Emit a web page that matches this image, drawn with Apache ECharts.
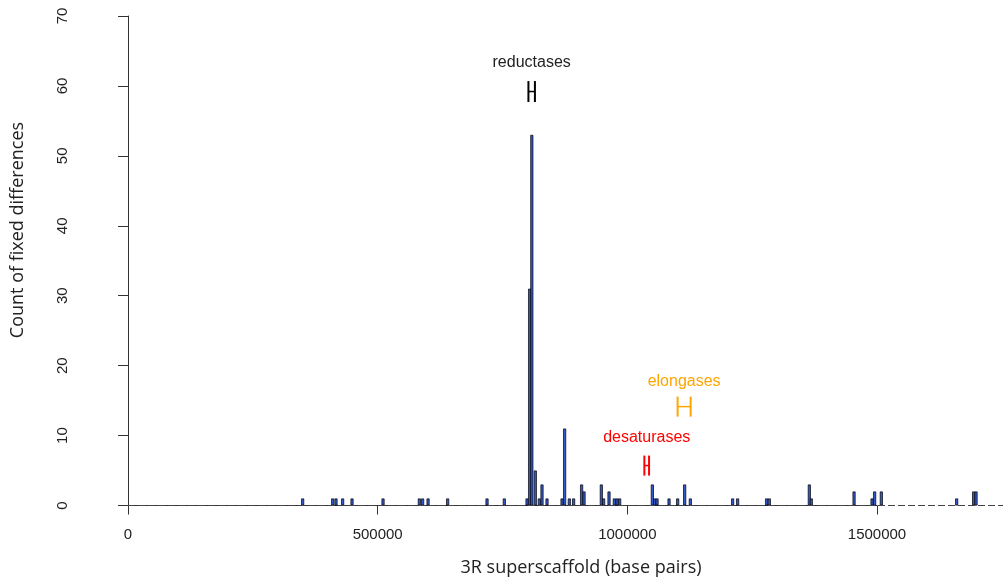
<!DOCTYPE html>
<html><head><meta charset="utf-8">
<script src="https://cdn.jsdelivr.net/npm/echarts@6/dist/echarts.min.js"></script>
<style>html,body{margin:0;padding:0;background:#fff}#c{width:1003px;height:582px}</style>
</head><body><div id="c"></div>
<script>
// Bin positions (base pairs) and counts of fixed differences
const positions = [349800, 409900, 416600, 429900, 448700, 510800, 583500, 590100, 601000, 640200, 719100, 753700,
  799200, 804400, 808800, 815800, 823800, 829200, 839200,
  869300, 874500, 883900, 892500, 908500, 913400,
  948000, 952600, 963400, 974000, 979500, 984700,
  1050200, 1054800, 1059600, 1083600, 1100900, 1114900, 1126300,
  1211000, 1221000, 1279000, 1284500, 1364600, 1368600,
  1454200, 1490200, 1495400, 1508800, 1659700, 1693700, 1698500];
const counts = [1, 1, 1, 1, 1, 1, 1, 1, 1, 1, 1, 1,
  1, 31, 53, 5, 1, 3, 1,
  1, 11, 1, 1, 3, 2,
  3, 1, 2, 1, 1, 1,
  3, 1, 1, 1, 1, 3, 1,
  1, 1, 1, 1, 3, 1,
  2, 1, 2, 2, 1, 2, 2];

// Axis ticks
const xTicks = [0, 500000, 1000000, 1500000];
const yTicks = [0, 10, 20, 30, 40, 50, 60, 70];

// Gene-family annotations
const annotNames = ['reductases', 'desaturases', 'elongases'];
const annotStart = [802000, 1034200, 1100800];
const annotEnd = [815000, 1043600, 1126900];
const annotY = [59.2, 5.71, 14.14];
const annotHalf = [1.5, 1.43, 1.43];
const annotLabelY = [63.4, 9.77, 17.7];
const annotTextColors = ['#222222', '#ff0000', '#ffa500'];
const annotBarColors = ['#000000', '#ff0000', '#ffa500'];

const xMaxVisible = 1752500;

const chart = echarts.init(document.getElementById('c'), null, {renderer: 'canvas'});
const axisColor = '#333';
const tickFont = {fontSize: 15, color: '#222', fontFamily: 'Liberation Sans'};

const annotData = annotNames.map((n, i) => [annotStart[i], annotEnd[i], annotY[i], annotHalf[i], annotLabelY[i]]);

chart.setOption({
  animation: false,
  backgroundColor: '#fff',
  grid: [
    {left: 128, right: 0, top: 16, height: 489.5},
    {left: 128, width: 749, top: 16, height: 489.5}
  ],
  xAxis: [
    {gridIndex: 0, type: 'value', min: 0, max: xMaxVisible, show: false},
    {gridIndex: 1, type: 'value', min: xTicks[0], max: xTicks[xTicks.length - 1],
     interval: xTicks[1] - xTicks[0], offset: 2,
     axisLine: {show: true, lineStyle: {color: axisColor, width: 1}},
     axisTick: {show: true, length: 9, lineStyle: {color: axisColor}},
     axisLabel: Object.assign({margin: 20, formatter: v => String(v)}, tickFont),
     splitLine: {show: false}}
  ],
  yAxis: [
    {gridIndex: 0, type: 'value', min: yTicks[0], max: yTicks[yTicks.length - 1],
     interval: yTicks[1] - yTicks[0], offset: 36,
     axisLine: {show: true, lineStyle: {color: axisColor, width: 1}},
     axisTick: {show: true, length: 10, lineStyle: {color: axisColor}},
     axisLabel: Object.assign({margin: 22, rotate: 90}, tickFont),
     splitLine: {show: false}},
    {gridIndex: 1, type: 'value', min: 0, max: 70, show: false}
  ],
  graphic: [
    {type: 'text', x: 18, y: 230, rotation: Math.PI / 2,
     style: {text: 'Count of fixed differences', fill: '#222', font: '18px "Open Sans"',
             textAlign: 'center', textVerticalAlign: 'middle', align: 'center', verticalAlign: 'middle'}},
    {type: 'text', x: 581, y: 568,
     style: {text: '3R superscaffold (base pairs)', fill: '#222', font: '18px "Open Sans"',
             textAlign: 'center', textVerticalAlign: 'middle', align: 'center', verticalAlign: 'middle'}}
  ],
  series: [
    {type: 'bar', xAxisIndex: 0, yAxisIndex: 0,
     data: positions.map((p, i) => [p, counts[i]]),
     barWidth: 3,
     itemStyle: {color: '#3358c8', borderColor: '#000', borderWidth: 0.7},
     markLine: {silent: true, symbol: 'none', label: {show: false},
       lineStyle: {type: [7, 3], color: '#444', width: 1},
       data: [{yAxis: 0}]},
     z: 3},
    {type: 'custom', xAxisIndex: 0, yAxisIndex: 0, clip: false, z: 5,
     data: annotData,
     renderItem: function (params, api) {
       const i = params.dataIndex;
       const s = api.value(0), e = api.value(1), y = api.value(2), h = api.value(3), ly = api.value(4);
       const a = api.coord([s, y]), b = api.coord([e, y]);
       const top = api.coord([s, y + h])[1], bot = api.coord([s, y - h])[1];
       const lab = api.coord([(s + e) / 2, ly]);
       const st = {stroke: annotBarColors[i], lineWidth: 2};
       return {type: 'group', children: [
         {type: 'line', shape: {x1: a[0], y1: top, x2: a[0], y2: bot}, style: st},
         {type: 'line', shape: {x1: b[0], y1: top, x2: b[0], y2: bot}, style: st},
         {type: 'line', shape: {x1: a[0], y1: a[1], x2: b[0], y2: b[1]}, style: {stroke: annotBarColors[i], lineWidth: 1.5}},
         {type: 'text', style: {text: annotNames[i], x: lab[0], y: lab[1], fill: annotTextColors[i],
           font: '16px "Liberation Sans"', textAlign: 'center', textVerticalAlign: 'middle',
           align: 'center', verticalAlign: 'middle'}}
       ]};
     }}
  ]
});
</script>
</body></html>
